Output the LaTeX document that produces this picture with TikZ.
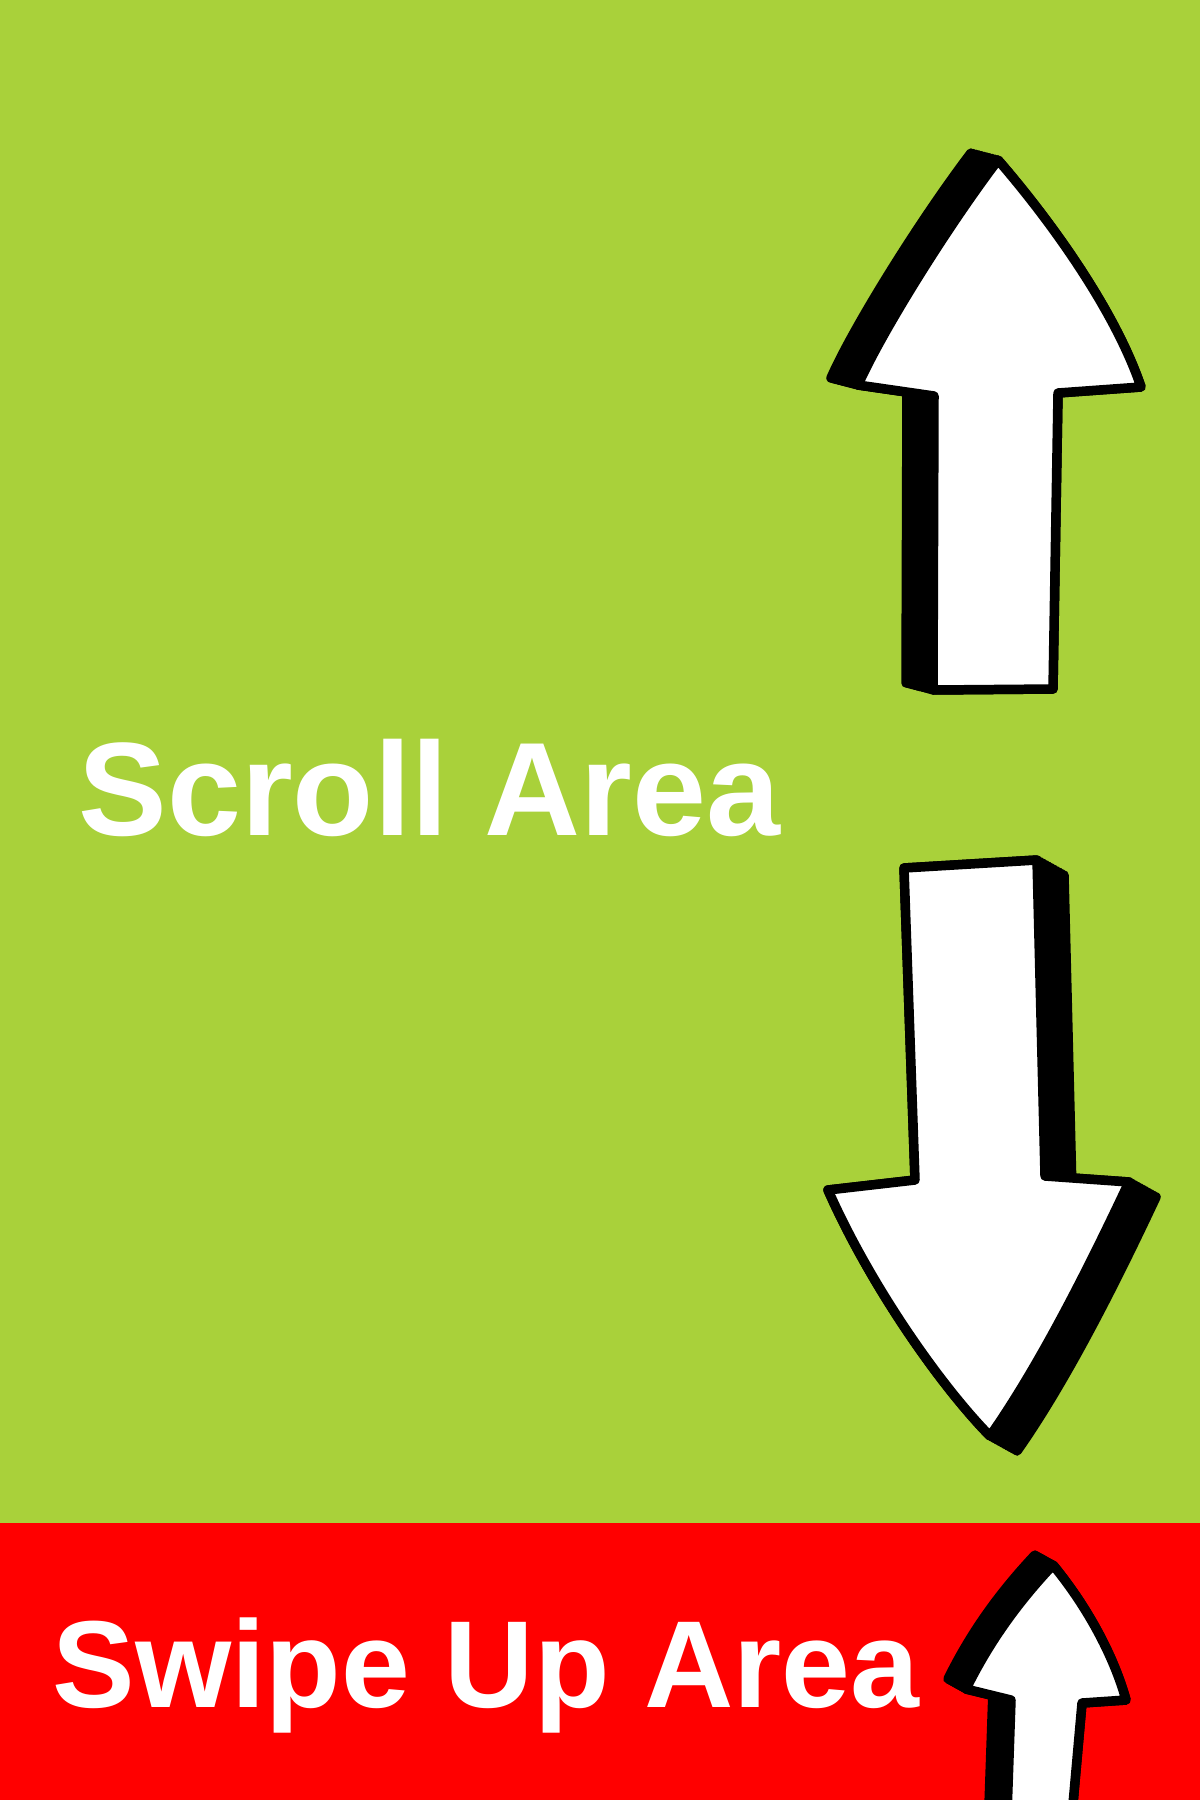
\documentclass[tikz,border=0pt]{standalone}
\usepackage{fontspec}
\setmainfont{Liberation Sans}
\usepackage{tikz}
\usetikzlibrary{positioning}
\usepackage{xcolor}

\definecolor{scrollgreen}{RGB}{169,209,58}
\definecolor{swipered}{RGB}{255,0,0}

% outlines of the three arrows (pixel grid, y down)
\newcommand{\uparrowpath}{(998,160) .. controls (1050,220) and (1115,310) .. (1141,387)
  -- (1058,393) -- (1053,689) -- (933,690) -- (934,396) -- (858,385)
  .. controls (880,335) and (945,230) .. (998,160) -- cycle}
\newcommand{\downarrowpath}{(904,868) -- (1037,860) -- (1045,1176) -- (1129,1182)
  .. controls (1090,1265) and (1040,1365) .. (990,1436)
  .. controls (940,1385) and (870,1285) .. (828,1190)
  -- (915,1180) -- cycle}
\newcommand{\swipearrowpath}{(1053,1565) .. controls (1090,1610) and (1115,1660) .. (1126,1700)
  -- (1082,1703) -- (1072,1815) -- (1007,1815) -- (1011,1700) -- (966,1689)
  .. controls (990,1640) and (1020,1600) .. (1053,1565) -- cycle}

\begin{document}
\begin{tikzpicture}[x=0.01cm, y=-0.01cm,
  arrowbody/.style={fill=white, draw=black, line width=2.7pt, line join=round},
  arrowshade/.style={fill=black, draw=black, line width=2.7pt, line join=round},
  arealabel/.style={text=white, anchor=base west, inner sep=0pt, font=\bfseries}]
  \clip (0,0) rectangle (1200,1800);
  % background areas
  \fill[scrollgreen] (0,0) rectangle (1200,1523);
  \fill[swipered] (0,1523) rectangle (1200,1800);
  % labels
  \node[arealabel, font=\bfseries\fontsize{37.8pt}{40pt}\selectfont] (scroll) at (78,835) {Scroll Area};
  \node[arealabel, font=\bfseries\fontsize{35.2pt}{38pt}\selectfont] (swipe) at (52,1707) {Swipe Up Area};
  % up arrow
  \foreach \t in {0,0.1,...,1.01}
    \fill[arrowshade, shift={(-27*\t,-7*\t)}] \uparrowpath;
  \draw[arrowbody] \uparrowpath;
  % down arrow
  \foreach \t in {0,0.1,...,1.01}
    \fill[arrowshade, shift={(27*\t,15*\t)}] \downarrowpath;
  \draw[arrowbody] \downarrowpath;
  % swipe arrow
  \foreach \t in {0,0.1,...,1.01}
    \fill[arrowshade, shift={(-18*\t,-10*\t)}] \swipearrowpath;
  \draw[arrowbody] \swipearrowpath;
\end{tikzpicture}
\end{document}
